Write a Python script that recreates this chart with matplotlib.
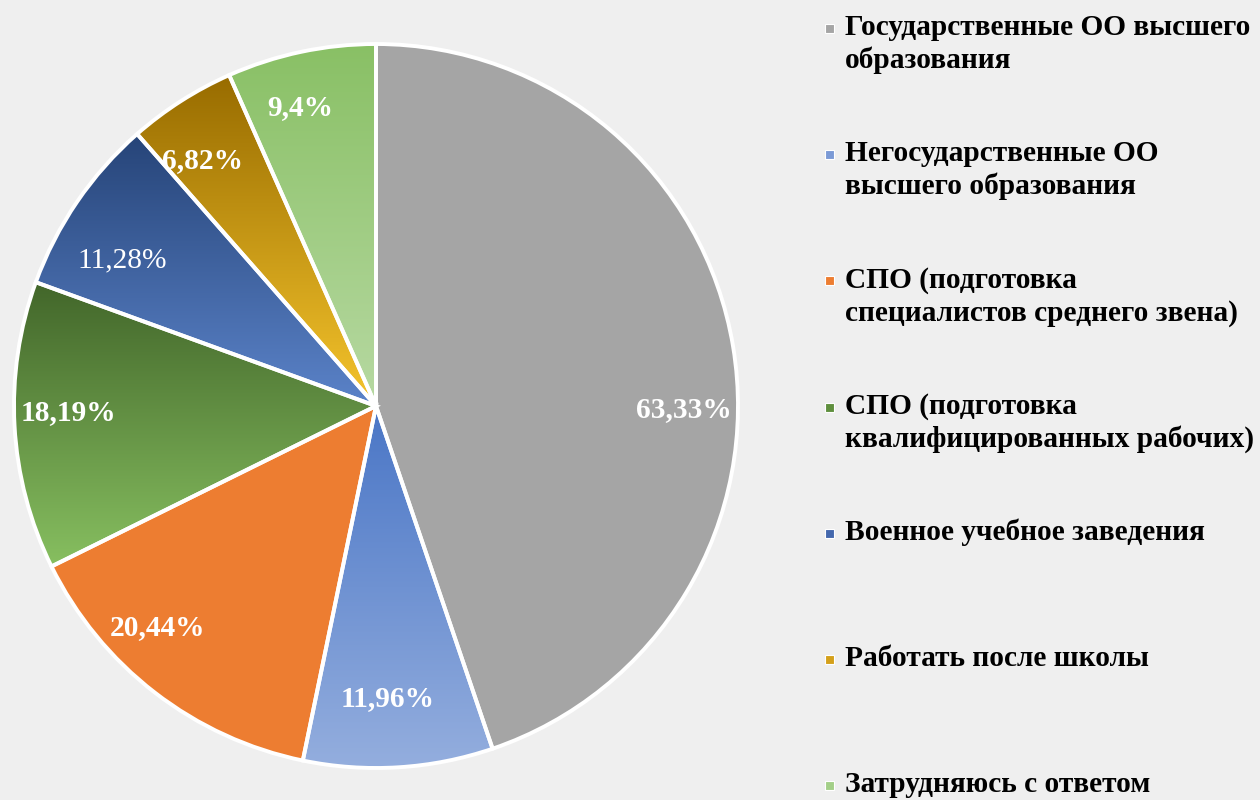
import numpy as np
import matplotlib
matplotlib.use("Agg")
import matplotlib.pyplot as plt
from matplotlib.colors import LinearSegmentedColormap
from matplotlib.patches import Wedge, Rectangle

plt.rcParams['font.family'] = ['Liberation Serif', 'DejaVu Serif']

# ---- data ----
categories = [
    "Государственные ОО высшего\nобразования",
    "Негосударственные ОО\nвысшего образования",
    "СПО (подготовка\nспециалистов среднего звена)",
    "СПО (подготовка\nквалифицированных рабочих)",
    "Военное учебное заведения",
    "Работать после школы",
    "Затрудняюсь с ответом",
]
values = [63.33, 11.96, 20.44, 18.19, 11.28, 6.82, 9.4]
value_labels = ["63,33%", "11,96%", "20,44%", "18,19%", "11,28%", "6,82%", "9,4%"]

# ---- style ----
# (top colour, bottom colour) of vertical gradient per slice
grad_colors = [
    ("#a5a5a5", "#a5a5a5"),
    ("#4a76c6", "#94aede"),
    ("#ed7d31", "#ed7d31"),
    ("#42662a", "#87bf60"),
    ("#264478", "#5b83c9"),
    ("#986c00", "#f5c42c"),
    ("#89c065", "#b7d9a2"),
]
legend_colors = ["#a5a5a5", "#7b9ad6", "#ed7d31", "#5f8f3e", "#4468ad", "#d4a01a", "#a3cf88"]
label_weights = ["bold", "bold", "bold", "bold", "normal", "bold", "bold"]
label_angle_shift = [-10.1, -1.3, -7.0, -2.0, 4.5, 2.7, 2.2]
label_radius = [0.85, 0.81, 0.86, 0.85, 0.81, 0.83, 0.85]

W, H = 1260, 800
fig = plt.figure(figsize=(W / 100, H / 100), dpi=100)
fig.patch.set_facecolor("#efefef")
ax = fig.add_axes([0, 0, 1, 1])

cx, cy, R = 376, H - 406, 362

wedges, _ = ax.pie(values, startangle=90, counterclock=False,
                   center=(cx, cy), radius=R, frame=True,
                   colors=[c[1] for c in grad_colors],
                   wedgeprops=dict(linewidth=0))

for w, (ctop, cbot) in zip(wedges, grad_colors):
    w.set_zorder(1)
    t1, t2 = w.theta1, w.theta2
    th = np.radians(np.linspace(t1, t2, 200))
    xs = np.concatenate([[cx], cx + R * np.cos(th)])
    ys = np.concatenate([[cy], cy + R * np.sin(th)])
    if ctop != cbot:
        cmap = LinearSegmentedColormap.from_list("g", [cbot, ctop])
        grad = np.linspace(0, 1, 256).reshape(-1, 1)
        im = ax.imshow(grad, extent=(xs.min(), xs.max(), ys.min(), ys.max()),
                       origin="lower", cmap=cmap, aspect="auto", zorder=1.5,
                       interpolation="bilinear")
        im.set_clip_path(w)
    edge = Wedge((cx, cy), R, t1, t2, facecolor="none", edgecolor="white",
                 linewidth=2.8, zorder=3, joinstyle="miter")
    ax.add_patch(edge)

ax.set_xlim(0, W)
ax.set_ylim(0, H)
ax.set_aspect("equal")
ax.axis("off")

# value labels
for w, lab, wt, dsh, rr in zip(wedges, value_labels, label_weights,
                               label_angle_shift, label_radius):
    mid = np.radians((w.theta1 + w.theta2) / 2 + dsh)
    ax.text(cx + rr * R * np.cos(mid), cy + rr * R * np.sin(mid), lab,
            ha="center", va="center", color="white", fontsize=21.2,
            fontweight=wt, zorder=4)

# legend
leg_base0 = H - 35
leg_step = 126.2
for i, (cat, col) in enumerate(zip(categories, legend_colors)):
    yb = leg_base0 - i * leg_step
    ax.add_patch(Rectangle((825, yb + 2), 9, 9, facecolor=col,
                           edgecolor="white", linewidth=0.8, zorder=4))
    lines = cat.split("\n")
    for j, ln in enumerate(lines):
        ax.text(845, yb - j * 33, ln, ha="left", va="baseline", fontsize=21.2,
                fontweight="bold", color="black", zorder=4)

fig.savefig("out.png", dpi=100, facecolor=fig.get_facecolor())
